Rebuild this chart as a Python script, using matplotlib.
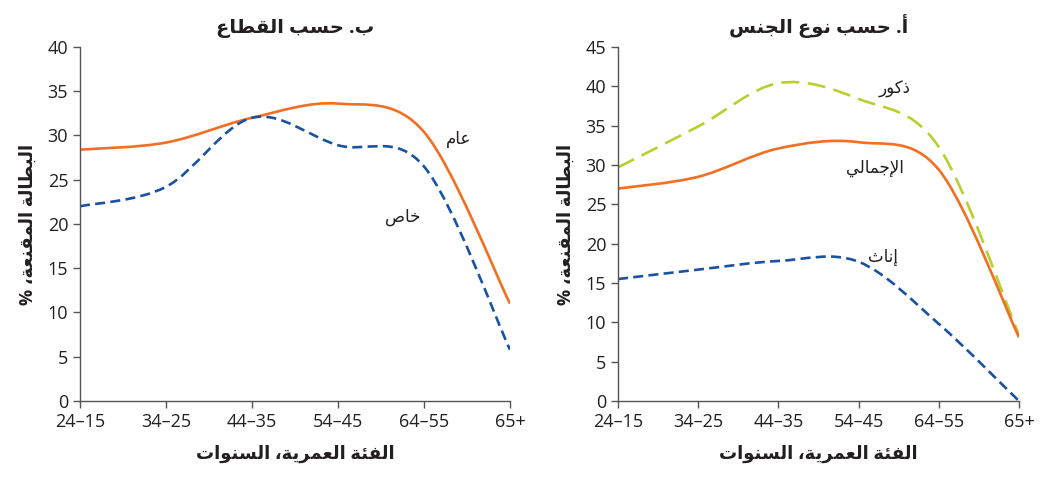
import numpy as np
import matplotlib
matplotlib.use("Agg")
from matplotlib import pyplot as plt
from matplotlib.path import Path
from matplotlib.patches import PathPatch

plt.rcParams["font.family"] = ["Open Sans", "DejaVu Sans"]

# الفئات العمرية (كما تظهر على المحور)
age_groups = ["24–15", "34–25", "44–35", "54–45", "64–55", "65+"]

# ب. حسب القطاع
sector_public = [28.4, 29.2, 32.0, 33.6, 30.4, 11.0]
sector_private = [22.0, 24.2, 32.0, 28.9, 26.5, 5.8]

# أ. حسب نوع الجنس
gender_male = [29.7, 34.9, 40.4, 38.4, 32.3, 8.4]
gender_total = [27.0, 28.5, 32.1, 32.9, 29.4, 8.1]
gender_female = [15.5, 16.7, 17.8, 17.7, 9.8, 0.0]

ORANGE = "#F26F21"
BLUE = "#1A52A2"
GREEN = "#BACF2F"
TEXT = "#231F20"

# --- تشكيل الحروف العربية (أشكال العرض) وعكس الترتيب للعرض ---
FORMS = {
    "ا": ("\uFE8D", "\uFE8E", None, None),
    "أ": ("\uFE83", "\uFE84", None, None),
    "إ": ("\uFE87", "\uFE88", None, None),
    "ب": ("\uFE8F", "\uFE90", "\uFE91", "\uFE92"),
    "ة": ("\uFE93", "\uFE94", None, None),
    "ت": ("\uFE95", "\uFE96", "\uFE97", "\uFE98"),
    "ث": ("\uFE99", "\uFE9A", "\uFE9B", "\uFE9C"),
    "ج": ("\uFE9D", "\uFE9E", "\uFE9F", "\uFEA0"),
    "ح": ("\uFEA1", "\uFEA2", "\uFEA3", "\uFEA4"),
    "خ": ("\uFEA5", "\uFEA6", "\uFEA7", "\uFEA8"),
    "ذ": ("\uFEAB", "\uFEAC", None, None),
    "ر": ("\uFEAD", "\uFEAE", None, None),
    "س": ("\uFEB1", "\uFEB2", "\uFEB3", "\uFEB4"),
    "ص": ("\uFEB9", "\uFEBA", "\uFEBB", "\uFEBC"),
    "ط": ("\uFEC1", "\uFEC2", "\uFEC3", "\uFEC4"),
    "ع": ("\uFEC9", "\uFECA", "\uFECB", "\uFECC"),
    "ف": ("\uFED1", "\uFED2", "\uFED3", "\uFED4"),
    "ق": ("\uFED5", "\uFED6", "\uFED7", "\uFED8"),
    "ك": ("\uFED9", "\uFEDA", "\uFEDB", "\uFEDC"),
    "ل": ("\uFEDD", "\uFEDE", "\uFEDF", "\uFEE0"),
    "م": ("\uFEE1", "\uFEE2", "\uFEE3", "\uFEE4"),
    "ن": ("\uFEE5", "\uFEE6", "\uFEE7", "\uFEE8"),
    "و": ("\uFEED", "\uFEEE", None, None),
    "ي": ("\uFEF1", "\uFEF2", "\uFEF3", "\uFEF4"),
    "ئ": ("\uFE89", "\uFE8A", "\uFE8B", "\uFE8C"),
}
LAM_ALEF = {"ا": ("\uFEFB", "\uFEFC"), "أ": ("\uFEF7", "\uFEF8"), "إ": ("\uFEF9", "\uFEFA")}


def joins_next(c):
    return c in FORMS and FORMS[c][2] is not None


def ar(text):
    out = []
    n = len(text)
    i = 0
    while i < n:
        c = text[i]
        if c not in FORMS:
            out.append(c)
            i += 1
            continue
        link_prev = i > 0 and joins_next(text[i - 1])
        if c == "ل" and i + 1 < n and text[i + 1] in LAM_ALEF:
            iso, fin = LAM_ALEF[text[i + 1]]
            out.append(fin if link_prev else iso)
            i += 2
            continue
        link_next = joins_next(c) and i + 1 < n and text[i + 1] in FORMS
        iso, fin, ini, med = FORMS[c]
        if link_prev and link_next:
            out.append(med)
        elif link_prev:
            out.append(fin)
        elif link_next:
            out.append(ini)
        else:
            out.append(iso)
        i += 1
    return "".join(reversed(out))


# منحنى ناعم (بيزيه) يمر بالنقاط
def smooth_path(ys):
    pts = np.column_stack([np.arange(len(ys), dtype=float), np.asarray(ys, dtype=float)])
    verts = [pts[0]]
    codes = [Path.MOVETO]
    n = len(pts)
    for k in range(n - 1):
        p0 = pts[k - 1] if k > 0 else pts[k]
        p1, p2 = pts[k], pts[k + 1]
        p3 = pts[k + 2] if k + 2 < n else pts[k + 1]
        verts += [p1 + (p2 - p0) / 6, p2 - (p3 - p1) / 6, p2]
        codes += [Path.CURVE4] * 3
    return Path(verts, codes)


def draw_curve(ax, ys, color, ls):
    ax.add_patch(PathPatch(smooth_path(ys), fill=False, edgecolor=color,
                           linewidth=1.9, linestyle=ls, capstyle="butt"))


def style_axes(ax, ymax):
    ax.set_xlim(0, len(age_groups) - 1)
    ax.set_ylim(0, ymax)
    ax.set_xticks(range(len(age_groups)))
    ax.set_xticklabels(age_groups)
    ax.set_yticks(np.arange(0, ymax + 1, 5))
    for s in ["top", "right"]:
        ax.spines[s].set_visible(False)
    for s in ["left", "bottom"]:
        ax.spines[s].set_color("#555555")
        ax.spines[s].set_linewidth(1.0)
    ax.tick_params(axis="both", labelsize=13, colors="#555555", labelcolor=TEXT,
                   length=5, width=1.0, direction="out")
    ax.set_xlabel(ar("الفئة العمرية، السنوات"), fontsize=13, fontweight="bold",
                  color=TEXT, labelpad=10)
    ax.set_ylabel(ar("البطالة المقنعة، %"), fontsize=13, fontweight="bold",
                  color=TEXT, labelpad=8)


fig = plt.figure(figsize=(10.42, 4.78), dpi=100)
ax1 = fig.add_axes([0.0768, 0.1611, 0.4126, 0.7406])
ax2 = fig.add_axes([0.5931, 0.1611, 0.3848, 0.7406])

# ب. حسب القطاع
style_axes(ax1, 40)
draw_curve(ax1, sector_public, ORANGE, "-")
draw_curve(ax1, sector_private, BLUE, (0, (3.8, 2.0)))
ax1.set_title(ar("ب. حسب القطاع"), fontsize=14, fontweight="bold", color=TEXT, pad=10)
ax1.text(4.4, 29.5, ar("عام"), fontsize=12, color=TEXT, ha="center", va="center")
ax1.text(3.75, 20.8, ar("خاص"), fontsize=12, color=TEXT, ha="center", va="center")

# أ. حسب نوع الجنس
style_axes(ax2, 45)
draw_curve(ax2, gender_male, GREEN, (0, (6.8, 3.2)))
draw_curve(ax2, gender_total, ORANGE, "-")
draw_curve(ax2, gender_female, BLUE, (0, (3.8, 2.0)))
ax2.set_title(ar("أ. حسب نوع الجنس"), fontsize=14, fontweight="bold", color=TEXT, pad=10)
ax2.text(3.45, 39.6, ar("ذكور"), fontsize=12, color=TEXT, ha="center", va="center")
ax2.text(3.2, 29.6, ar("الإجمالي"), fontsize=12, color=TEXT, ha="center", va="center")
ax2.text(3.3, 18.2, ar("إناث"), fontsize=12, color=TEXT, ha="center", va="center")

fig.savefig("out.png", dpi=100)
